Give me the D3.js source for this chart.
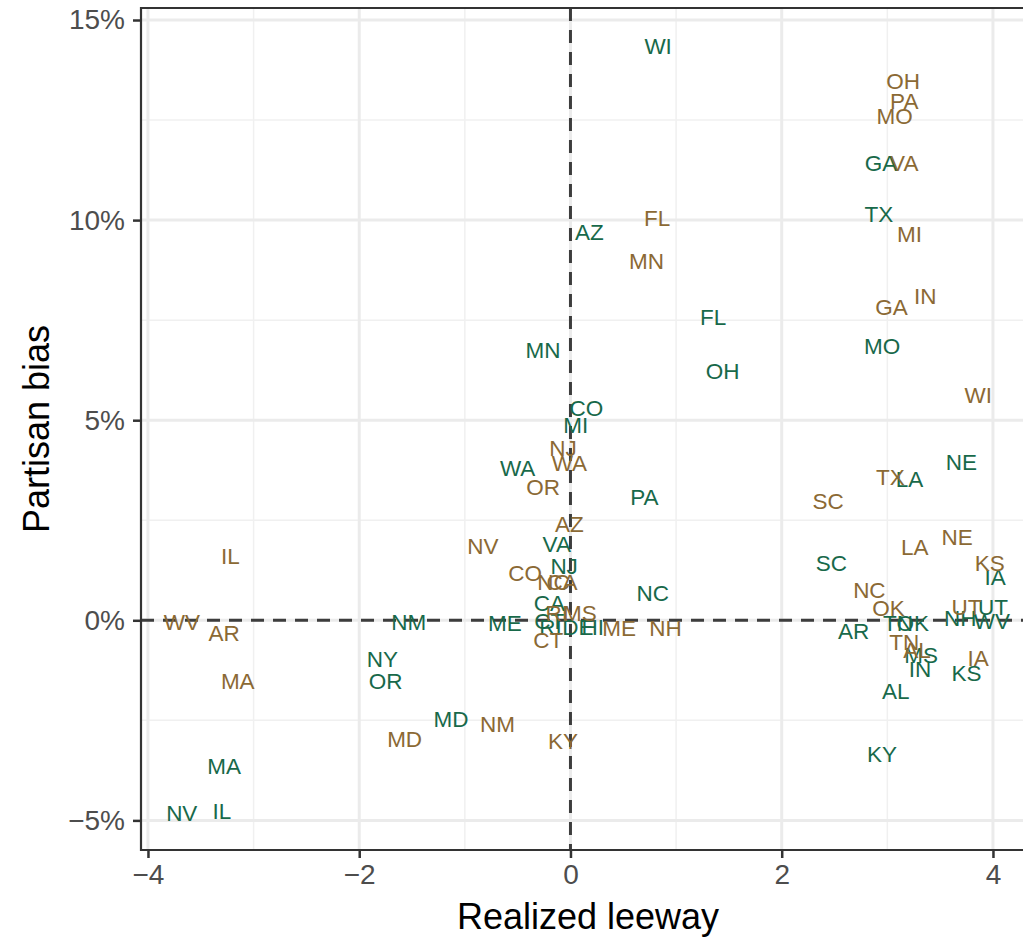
<!DOCTYPE html>
<html>
<head>
<meta charset="utf-8">
<script src="https://cdn.jsdelivr.net/npm/d3@7"></script>
<style>
  body { margin: 0; background: #fff; }
  svg { display: block; font-family: "Liberation Sans", Arial, Helvetica, sans-serif; }
  .tick-label { fill: #4d4d4d; font-size: 28px; }
  .axis-title { fill: #000; font-size: 36px; }
  .state { font-size: 22.5px; }
</style>
</head>
<body>
<div id="chart"></div>
<script>
// state labels, green group
let greenStates = ["WI","GA","TX","MO","AZ","FL","OH","MN","CO","MI","WA","PA","VA","NJ","CA","CT","RI","DE","HI","ME","NC","NM","NY","OR","MD","MA","NV","IL","NE","LA","SC","AR","TN","OK","NH","UT","WV","MS","IN","KS","AL","KY","IA"];
let greenLeeway = [0.83,2.94,2.92,2.95,0.18,1.35,1.44,-0.26,0.15,0.05,-0.50,0.70,-0.13,-0.06,-0.20,-0.20,-0.19,0.07,0.21,-0.62,0.78,-1.53,-1.78,-1.75,-1.13,-3.28,-3.68,-3.30,3.70,3.21,2.47,2.68,3.10,3.24,3.69,4.00,3.99,3.32,3.31,3.75,3.08,2.95,4.02];
let greenBias = [14.33,11.41,10.14,6.84,9.69,7.57,6.22,6.74,5.29,4.87,3.80,3.07,1.90,1.35,0.42,-0.02,-0.19,-0.19,-0.19,-0.07,0.67,-0.05,-0.97,-1.52,-2.47,-3.65,-4.82,-4.79,3.95,3.52,1.42,-0.27,-0.07,-0.07,0.05,0.32,-0.02,-0.87,-1.22,-1.32,-1.77,-3.35,1.07];

// state labels, brown group
let brownStates = ["OH","PA","MO","VA","MI","IN","GA","FL","MN","WI","NJ","WA","OR","AZ","NV","CO","NC","CA","RI","MS","ME","NH","CT","IL","WV","AR","MA","MD","NM","KY","TX","SC","NE","LA","KS","OK","UT","TN","AL","IA","NC"];
let brownLeeway = [3.15,3.16,3.07,3.16,3.21,3.36,3.04,0.82,0.72,3.86,-0.07,-0.01,-0.26,-0.01,-0.83,-0.43,-0.16,-0.08,-0.13,0.09,0.46,0.90,-0.21,-3.22,-3.68,-3.28,-3.15,-1.57,-0.69,-0.07,3.03,2.44,3.66,3.26,3.97,3.01,3.75,3.16,3.28,3.86,2.83];
let brownBias = [13.46,12.96,12.58,11.41,9.64,8.09,7.82,10.04,8.96,5.62,4.29,3.92,3.32,2.40,1.85,1.17,0.95,0.95,0.17,0.17,-0.20,-0.20,-0.50,1.60,-0.05,-0.32,-1.52,-2.97,-2.60,-3.02,3.57,2.97,2.07,1.82,1.42,0.30,0.32,-0.55,-0.75,-0.95,0.75];

let xTicks = [-4, -2, 0, 2, 4];
let xMinor = [-3, -1, 1, 3];
let yTicks = [-5, 0, 5, 10, 15];
let yMinor = [-2.5, 2.5, 7.5, 12.5];

let svgWidth = 1023;
let svgHeight = 937;
let panel = { left: 141, right: 1035, top: 8, bottom: 850 };

let svg = d3.select("#chart")
  .append("svg")
  .attr("width", svgWidth)
  .attr("height", svgHeight);

let xScale = d3.scaleLinear()
  .domain([-4.066, 4.398])
  .range([panel.left, panel.right]);

let yScale = d3.scaleLinear()
  .domain([-5.74, 15.30])
  .range([panel.bottom, panel.top]);

// grid
let grid = svg.append("g");
grid.selectAll(".vminor").data(xMinor).enter().append("line")
  .attr("x1", d => xScale(d)).attr("x2", d => xScale(d))
  .attr("y1", panel.top).attr("y2", panel.bottom)
  .attr("stroke", "#f0f0f0").attr("stroke-width", 1.5);
grid.selectAll(".hminor").data(yMinor).enter().append("line")
  .attr("x1", panel.left).attr("x2", panel.right)
  .attr("y1", d => yScale(d)).attr("y2", d => yScale(d))
  .attr("stroke", "#f0f0f0").attr("stroke-width", 1.5);
grid.selectAll(".vmajor").data(xTicks).enter().append("line")
  .attr("x1", d => xScale(d)).attr("x2", d => xScale(d))
  .attr("y1", panel.top).attr("y2", panel.bottom)
  .attr("stroke", "#ebebeb").attr("stroke-width", 3);
grid.selectAll(".hmajor").data(yTicks).enter().append("line")
  .attr("x1", panel.left).attr("x2", panel.right)
  .attr("y1", d => yScale(d)).attr("y2", d => yScale(d))
  .attr("stroke", "#ebebeb").attr("stroke-width", 3);

// reference lines at zero
svg.append("line")
  .attr("x1", xScale(0)).attr("x2", xScale(0))
  .attr("y1", panel.top).attr("y2", panel.bottom)
  .attr("stroke", "#3d3d3d").attr("stroke-width", 3)
  .attr("stroke-dasharray", "13,9");
svg.append("line")
  .attr("x1", panel.left).attr("x2", panel.right)
  .attr("y1", yScale(0)).attr("y2", yScale(0))
  .attr("stroke", "#3d3d3d").attr("stroke-width", 3)
  .attr("stroke-dasharray", "13,9");

// labels
function drawStates(states, xs, ys, color) {
  svg.append("g").selectAll("text")
    .data(states)
    .enter()
    .append("text")
    .attr("class", "state")
    .attr("x", (d, i) => xScale(xs[i]))
    .attr("y", (d, i) => yScale(ys[i]))
    .attr("dy", "0.33em")
    .attr("text-anchor", "middle")
    .attr("fill", color)
    .text(d => d);
}
drawStates(greenStates, greenLeeway, greenBias, "#18694a");
drawStates(brownStates, brownLeeway, brownBias, "#8b6934");

// axes
let bottomAxis = d3.axisBottom(xScale)
  .tickValues(xTicks)
  .tickSize(8)
  .tickPadding(4)
  .tickFormat(d => d3.format("d")(d).replace("-", "\u2212"));
let leftAxis = d3.axisLeft(yScale)
  .tickValues(yTicks)
  .tickSize(8)
  .tickPadding(8)
  .tickFormat(d => (d < 0 ? "\u2212" + Math.abs(d) : d) + "%");

let gx = svg.append("g")
  .attr("transform", "translate(0," + panel.bottom + ")")
  .call(bottomAxis);
let gy = svg.append("g")
  .attr("transform", "translate(" + panel.left + ",0)")
  .call(leftAxis);

[gx, gy].forEach(function(g) {
  g.select(".domain").remove();
  g.selectAll(".tick line").attr("stroke", "#333").attr("stroke-width", 2.5);
  g.selectAll(".tick text").attr("class", "tick-label").attr("font-size", null).attr("font-family", null);
  g.attr("font-size", null).attr("font-family", null);
});
gx.selectAll(".tick text").attr("dy", "0.8em");

// panel lines: left, bottom, top
svg.append("line")
  .attr("x1", panel.left).attr("x2", panel.left)
  .attr("y1", panel.top - 1).attr("y2", panel.bottom + 1)
  .attr("stroke", "#333").attr("stroke-width", 2.2);
svg.append("line")
  .attr("x1", panel.left).attr("x2", panel.right)
  .attr("y1", panel.bottom).attr("y2", panel.bottom)
  .attr("stroke", "#333").attr("stroke-width", 2.2);
svg.append("line")
  .attr("x1", panel.left).attr("x2", panel.right)
  .attr("y1", panel.top).attr("y2", panel.top)
  .attr("stroke", "#333").attr("stroke-width", 2.2);

// axis titles
svg.append("text")
  .attr("class", "axis-title")
  .attr("x", (panel.left + panel.right) / 2)
  .attr("y", 929)
  .attr("text-anchor", "middle")
  .text("Realized leeway");

svg.append("text")
  .attr("class", "axis-title")
  .attr("transform", "translate(49," + ((panel.top + panel.bottom) / 2) + ") rotate(-90)")
  .attr("text-anchor", "middle")
  .text("Partisan bias");
</script>
</body>
</html>
